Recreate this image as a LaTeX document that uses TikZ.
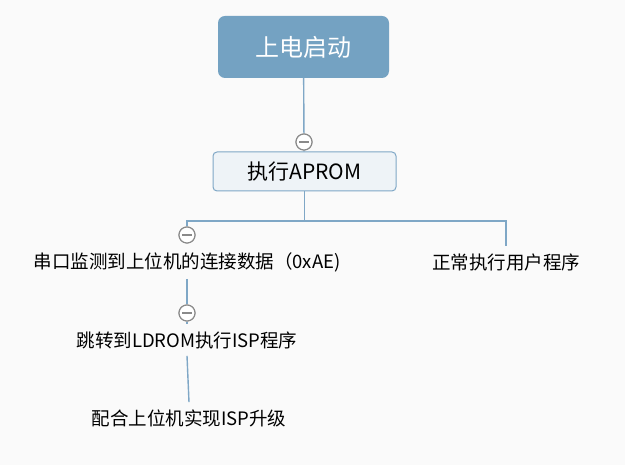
\documentclass[tikz,border=0pt]{standalone}
\usepackage{fontspec}
\newfontfamily\cjk{Noto Sans CJK SC}
\usepackage{tikz}
\usetikzlibrary{positioning}
\definecolor{rootblue}{HTML}{74A2C2}
\definecolor{linkblue}{HTML}{7FA7C6}
\definecolor{mainfill}{HTML}{EEF3F7}
\definecolor{foldgray}{HTML}{8A8A8A}
\definecolor{bggray}{HTML}{FAFAFA}
\tikzset{
  root/.style={
    fill=rootblue, rounded corners=7pt,
    minimum width=171pt, minimum height=62pt,
    text=white, font=\cjk\fontsize{24}{28}\selectfont
  },
  mainblk/.style={
    draw=linkblue, fill=mainfill, line width=1pt, rounded corners=4pt,
    minimum width=183pt, minimum height=39pt,
    font=\cjk\fontsize{21}{25}\selectfont
  },
  leaf/.style={inner xsep=2pt, inner ysep=7pt, font=\cjk\fontsize{18.5}{22}\selectfont},
  fold/.style={
    draw=foldgray, fill=white, circle, line width=1.1pt,
    minimum size=16pt, inner sep=0pt,
    path picture={\draw[foldgray, line width=1.1pt]
      ([xshift=3pt]path picture bounding box.west) --
      ([xshift=-3pt]path picture bounding box.east);}
  },
  link/.style={draw=linkblue, line width=1.4pt}
}
\begin{document}
\begin{tikzpicture}[x=1pt, y=1pt]

  \fill[bggray] (0,0) rectangle (625,465);
  \useasboundingbox (0,0) rectangle (625,465);

  \node[root]    (start) at (303.5,418) {上电启动};
  \node[fold]    (f1)    at (304,323)   {};
  \node[mainblk] (aprom) at (304.5,293.5) {执行APROM};
  \coordinate    (bus)   at (304.5,244);
  \node[fold]    (f2)    at (187,230)   {};
  \node[leaf]    (serial) at (187,203)  {串口监测到上位机的连接数据（0xAE)};
  \node[leaf]    (user)  at (506,203)   {正常执行用户程序};
  \node[fold]    (f3)    at (187,152)   {};
  \node[leaf]    (jump)  at (187,125)   {跳转到LDROM执行ISP程序};
  \node[leaf]    (isp)   at (189,47)    {配合上位机实现ISP升级};

  \draw[link] (start) -- (f1);
  \draw[link] (f1) -- (aprom);
  \draw[link] (aprom) -- (bus);
  \draw[link] (f2) |- (bus) -| (user.north);
  \draw[link] (serial) -- (f3);
  \draw[link] (f3) -- (jump);
  \draw[link] (jump.south) -- (isp.north);

  % fold buttons on top of the links
  \node[fold] at (f1) {};
  \node[fold] at (f2) {};
  \node[fold] at (f3) {};

\end{tikzpicture}
\end{document}
